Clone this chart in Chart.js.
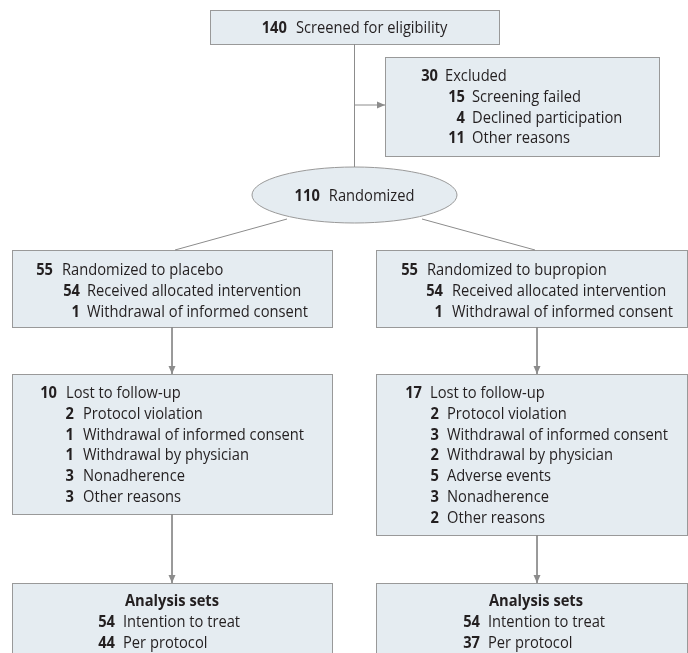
<!DOCTYPE html>
<html>
<head>
<meta charset="utf-8">
<script src="https://cdn.jsdelivr.net/npm/chart.js@4.4.1/dist/chart.umd.min.js"></script>
<style>
  html, body { margin: 0; padding: 0; background: #ffffff; }
  #flow { display: block; }
</style>
</head>
<body>
<canvas id="flow" width="688" height="653"></canvas>
<script>
// ---- data ----
const screenedCount = 140;
const screenedLabel = "Screened for eligibility";

const excludedCounts = [30, 15, 4, 11];
const excludedLabels = ["Excluded", "Screening failed", "Declined participation", "Other reasons"];

const randomizedCount = 110;
const randomizedLabel = "Randomized";

const armNames = ["placebo", "bupropion"];
const allocationLabels = ["Randomized to", "Received allocated intervention", "Withdrawal of informed consent"];
const placeboAllocation = [55, 54, 1];
const bupropionAllocation = [55, 54, 1];

const placeboLossLabels = ["Lost to follow-up", "Protocol violation", "Withdrawal of informed consent",
    "Withdrawal by physician", "Nonadherence", "Other reasons"];
const placeboLossCounts = [10, 2, 1, 1, 3, 3];
const bupropionLossLabels = ["Lost to follow-up", "Protocol violation", "Withdrawal of informed consent",
    "Withdrawal by physician", "Adverse events", "Nonadherence", "Other reasons"];
const bupropionLossCounts = [17, 2, 3, 2, 5, 3, 2];

const analysisTitle = "Analysis sets";
const analysisLabels = ["Intention to treat", "Per protocol"];
const placeboAnalysis = [54, 44];
const bupropionAnalysis = [54, 37];

// ---- layout (diagram units = pixels of the reference) ----
const FONT = "'Open Sans', 'Noto Sans', sans-serif";
const FONT_SIZE = 16.5;
const FILL = "#e5ecf1";
const EDGE = "#999999";
const LINK = "#8c8c8c";
const INK = "#231f20";
const STEP = 20.8;

const boxes = [
    [210, 10, 499, 44],
    [385, 57, 659, 156],
    [12, 250, 332, 327],
    [376, 250, 687, 327],
    [12, 374, 332, 514],
    [376, 374, 687, 535],
    [12, 583, 332, 668],
    [376, 583, 687, 668]
];
const oval = { cx: 354.5, cy: 195, rx: 102.5, ry: 28 };

const links = [
    { from: [354.5, 44], to: [354.5, 167] },
    { from: [354.5, 105], to: [385, 105], arrow: true },
    { from: [287, 219], to: [175, 250] },
    { from: [422, 219], to: [535, 250] },
    { from: [172, 327], to: [172, 374], arrow: true },
    { from: [537, 327], to: [537, 374], arrow: true },
    { from: [172, 514], to: [172, 583], arrow: true },
    { from: [537, 535], to: [537, 583], arrow: true }
];

// rows: first row on the outer column, the rest indented
function rows(counts, labels, y0, outer, inner) {
    return counts.map((c, i) => {
        const col = i === 0 ? outer : inner;
        return { count: c, label: labels[i], numRight: col[0], labelLeft: col[1], y: y0 + i * STEP };
    });
}

const textRows = [].concat(
    rows(excludedCounts, excludedLabels, 75, [438, 445], [465, 472]),
    rows(placeboAllocation, [allocationLabels[0] + " " + armNames[0]].concat(allocationLabels.slice(1)),
        269, [53, 62], [80, 87]),
    rows(bupropionAllocation, [allocationLabels[0] + " " + armNames[1]].concat(allocationLabels.slice(1)),
        269, [418, 427], [443, 452]),
    rows(placeboLossCounts, placeboLossLabels, 392, [57, 66], [74, 83]),
    rows(bupropionLossCounts, bupropionLossLabels, 392, [422, 430], [439, 447]),
    rows(placeboAnalysis, analysisLabels, 621, [115, 123], [115, 123]),
    rows(bupropionAnalysis, analysisLabels, 621, [480, 488], [480, 488])
);
const centeredRows = [
    { count: screenedCount, label: screenedLabel, cx: 354.5, y: 27 },
    { count: randomizedCount, label: randomizedLabel, cx: 354.5, y: 195 }
];
const titles = [
    { text: analysisTitle, cx: 172, y: 600 },
    { text: analysisTitle, cx: 536, y: 600 }
];

const canvas = document.getElementById("flow");
const ctx = canvas.getContext("2d");

const boldFont = "bold " + FONT_SIZE + "px " + FONT;
const plainFont = FONT_SIZE + "px " + FONT;

// the reference face is condensed: squeeze so the long label spans 221px as it does there
ctx.font = plainFont;
const squeeze = Math.min(1, 221 / ctx.measureText("Withdrawal of informed consent").width);

function put(c, text, px, py, align) {
    c.save();
    c.translate(px, py);
    c.scale(squeeze, 1);
    c.textAlign = align;
    c.fillText(text, 0, 0);
    c.restore();
}

const flowPlugin = {
    id: "flow",
    beforeDatasetsDraw(chart) {
        const { ctx: c, scales: { x, y } } = chart;
        c.save();
        c.lineWidth = 1;
        c.strokeStyle = EDGE;
        c.fillStyle = FILL;
        boxes.forEach(b => {
            const x0 = Math.round(x.getPixelForValue(b[0])) + 0.5;
            const y0 = Math.round(y.getPixelForValue(b[1])) + 0.5;
            const x1 = Math.round(x.getPixelForValue(b[2])) + 0.5;
            const y1 = Math.round(y.getPixelForValue(b[3])) + 0.5;
            c.fillRect(x0, y0, x1 - x0, y1 - y0);
            c.strokeRect(x0, y0, x1 - x0, y1 - y0);
        });
        const cx = x.getPixelForValue(oval.cx);
        const cy = y.getPixelForValue(oval.cy);
        const rx = x.getPixelForValue(oval.cx + oval.rx) - cx;
        const ry = y.getPixelForValue(oval.cy + oval.ry) - cy;
        c.beginPath();
        c.ellipse(cx, cy, rx, ry, 0, 0, Math.PI * 2);
        c.fill();
        c.stroke();
        c.restore();
    },
    afterDatasetsDraw(chart) {
        const { ctx: c, scales: { x, y } } = chart;
        c.save();
        c.fillStyle = LINK;
        links.filter(l => l.arrow).forEach(l => {
            const ex = x.getPixelForValue(l.to[0]);
            const ey = y.getPixelForValue(l.to[1]);
            const sx = x.getPixelForValue(l.from[0]);
            const sy = y.getPixelForValue(l.from[1]);
            const a = Math.atan2(ey - sy, ex - sx);
            const len = 8, half = 3.5;
            c.beginPath();
            c.moveTo(ex, ey);
            c.lineTo(ex - len * Math.cos(a) + half * Math.sin(a), ey - len * Math.sin(a) - half * Math.cos(a));
            c.lineTo(ex - len * Math.cos(a) - half * Math.sin(a), ey - len * Math.sin(a) + half * Math.cos(a));
            c.closePath();
            c.fill();
        });
        c.restore();
    },
    afterDraw(chart) {
        const { ctx: c, scales: { x, y } } = chart;
        const lift = FONT_SIZE * 0.36;
        c.save();
        c.fillStyle = INK;
        c.textBaseline = "alphabetic";
        textRows.forEach(r => {
            const py = y.getPixelForValue(r.y) + lift;
            c.font = boldFont;
            put(c, String(r.count), x.getPixelForValue(r.numRight), py, "right");
            c.font = plainFont;
            put(c, r.label, x.getPixelForValue(r.labelLeft), py, "left");
        });
        centeredRows.forEach(r => {
            const py = y.getPixelForValue(r.y) + lift;
            c.font = boldFont;
            const wn = c.measureText(String(r.count)).width * squeeze;
            c.font = plainFont;
            const wl = c.measureText(r.label).width * squeeze;
            const gap = 9;
            const left = x.getPixelForValue(r.cx) - (wn + gap + wl) / 2;
            c.font = boldFont;
            put(c, String(r.count), left, py, "left");
            c.font = plainFont;
            put(c, r.label, left + wn + gap, py, "left");
        });
        c.font = boldFont;
        titles.forEach(t => put(c, t.text, x.getPixelForValue(t.cx), y.getPixelForValue(t.y) + lift, "center"));
        c.restore();
    }
};

new Chart(ctx, {
    type: "scatter",
    data: {
        datasets: links.map(l => ({
            data: [{ x: l.from[0], y: l.from[1] }, { x: l.to[0], y: l.to[1] }],
            showLine: true,
            borderColor: LINK,
            borderWidth: 1,
            pointRadius: 0
        }))
    },
    options: {
        responsive: false,
        animation: false,
        events: [],
        layout: { padding: 0 },
        plugins: { legend: { display: false }, tooltip: { enabled: false } },
        scales: {
            x: { type: "linear", min: 0, max: 688, display: false },
            y: { type: "linear", min: 0, max: 653, reverse: true, display: false }
        }
    },
    plugins: [flowPlugin]
});
</script>
</body>
</html>
